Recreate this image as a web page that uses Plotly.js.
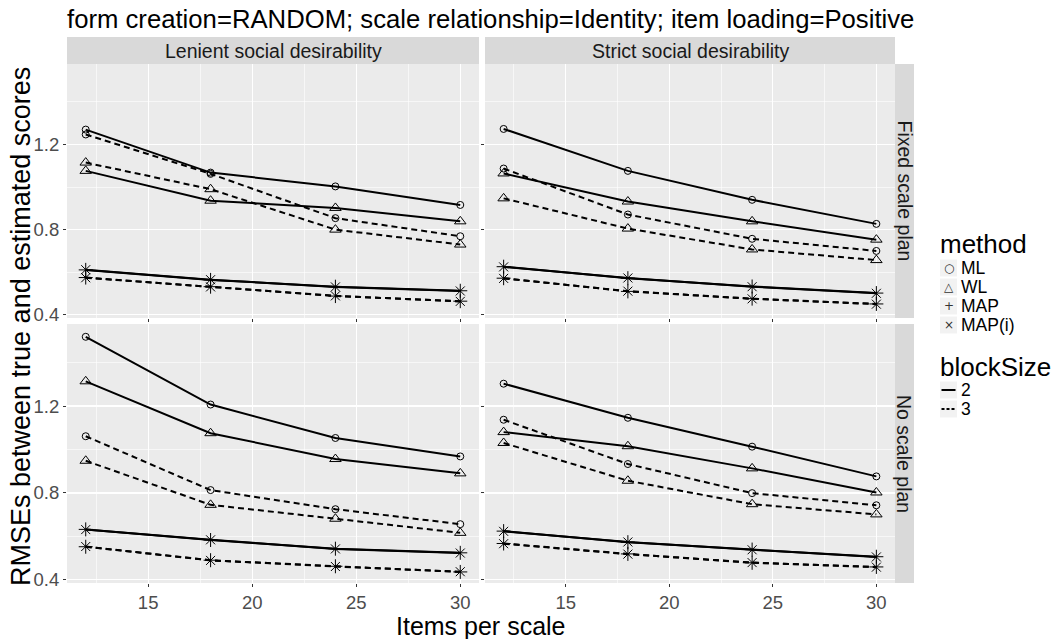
<!DOCTYPE html>
<html>
<head>
<meta charset="utf-8">
<script src="https://cdn.plot.ly/plotly-3.0.1.min.js"></script>
<style>html,body{margin:0;padding:0;background:#fff;}#chart{width:1057px;height:639px;}</style>
</head>
<body>
<div id="chart"></div>
<script>
// ---- data ----
const itemsPerScale = [12, 18, 24, 30];
const methods = ["ML", "WL", "MAP", "MAP(i)"];
const blockSizes = ["2", "3"];
const xTicks = [15, 20, 25, 30];
const yTicks = [0.4, 0.8, 1.2];
const colPanels = ["Lenient social desirability", "Strict social desirability"];
const rowPanels = ["Fixed scale plan", "No scale plan"];

// Lenient / Fixed scale plan
const LF_ML_2 = [1.270, 1.068, 1.003, 0.916];
const LF_ML_3 = [1.247, 1.062, 0.854, 0.769];
const LF_WL_2 = [1.076, 0.936, 0.902, 0.839];
const LF_WL_3 = [1.115, 0.990, 0.800, 0.730];
const LF_MAP_2 = [0.611, 0.564, 0.532, 0.513];
const LF_MAP_3 = [0.575, 0.532, 0.488, 0.464];
const LF_MAPi_2 = [0.612, 0.565, 0.531, 0.512];
const LF_MAPi_3 = [0.574, 0.531, 0.489, 0.463];
// Strict / Fixed scale plan
const SF_ML_2 = [1.273, 1.076, 0.940, 0.827];
const SF_ML_3 = [1.087, 0.871, 0.757, 0.700];
const SF_WL_2 = [1.064, 0.932, 0.839, 0.753];
const SF_WL_3 = [0.947, 0.805, 0.707, 0.657];
const SF_MAP_2 = [0.626, 0.572, 0.533, 0.502];
const SF_MAP_3 = [0.572, 0.510, 0.476, 0.451];
const SF_MAPi_2 = [0.625, 0.573, 0.532, 0.501];
const SF_MAPi_3 = [0.571, 0.511, 0.475, 0.450];
// Lenient / No scale plan
const LN_ML_2 = [1.519, 1.207, 1.053, 0.968];
const LN_ML_3 = [1.061, 0.813, 0.725, 0.656];
const LN_WL_2 = [1.314, 1.075, 0.956, 0.890];
const LN_WL_3 = [0.948, 0.745, 0.681, 0.616];
const LN_MAP_2 = [0.632, 0.583, 0.543, 0.524];
const LN_MAP_3 = [0.552, 0.490, 0.462, 0.436];
const LN_MAPi_2 = [0.631, 0.584, 0.542, 0.523];
const LN_MAPi_3 = [0.553, 0.489, 0.461, 0.437];
// Strict / No scale plan
const SN_ML_2 = [1.303, 1.146, 1.013, 0.876];
const SN_ML_3 = [1.137, 0.933, 0.799, 0.743];
const SN_WL_2 = [1.080, 1.015, 0.913, 0.802];
const SN_WL_3 = [1.030, 0.856, 0.748, 0.701];
const SN_MAP_2 = [0.624, 0.573, 0.539, 0.506];
const SN_MAP_3 = [0.567, 0.519, 0.478, 0.459];
const SN_MAPi_2 = [0.623, 0.574, 0.538, 0.505];
const SN_MAPi_3 = [0.566, 0.518, 0.479, 0.458];

// ---- styles ----
const FONT = "Liberation Sans, Arial, sans-serif";
const symbols = {"ML": "circle-open", "WL": "triangle-up-open", "MAP": "cross-thin-open", "MAP(i)": "x-thin-open"};
const symSize = {"ML": 7, "WL": 10, "MAP": 10, "MAP(i)": 9};
const dashes = {"2": "solid", "3": "6px,4px"};

const panels = [
  {axes: ["x", "y"],   data: {"ML": [LF_ML_2, LF_ML_3], "WL": [LF_WL_2, LF_WL_3], "MAP": [LF_MAP_2, LF_MAP_3], "MAP(i)": [LF_MAPi_2, LF_MAPi_3]}},
  {axes: ["x2", "y2"], data: {"ML": [SF_ML_2, SF_ML_3], "WL": [SF_WL_2, SF_WL_3], "MAP": [SF_MAP_2, SF_MAP_3], "MAP(i)": [SF_MAPi_2, SF_MAPi_3]}},
  {axes: ["x3", "y3"], data: {"ML": [LN_ML_2, LN_ML_3], "WL": [LN_WL_2, LN_WL_3], "MAP": [LN_MAP_2, LN_MAP_3], "MAP(i)": [LN_MAPi_2, LN_MAPi_3]}},
  {axes: ["x4", "y4"], data: {"ML": [SN_ML_2, SN_ML_3], "WL": [SN_WL_2, SN_WL_3], "MAP": [SN_MAP_2, SN_MAP_3], "MAP(i)": [SN_MAPi_2, SN_MAPi_3]}}
];

const traces = [];
panels.forEach(p => {
  methods.forEach(m => {
    blockSizes.forEach((b, bi) => {
      traces.push({
        type: "scatter", mode: "lines+markers",
        x: itemsPerScale, y: p.data[m][bi],
        xaxis: p.axes[0], yaxis: p.axes[1],
        name: m + " / " + b, showlegend: false,
        line: {color: "#000000", width: 2, dash: dashes[b]},
        marker: {symbol: symbols[m], size: symSize[m], color: "#000000", line: {color: "#000000", width: 1}},
        hoverinfo: "skip"
      });
    });
  });
});

// ---- geometry (pixels -> paper) ----
const W = 1057, H = 639;
const px = v => v / W, py = v => 1 - v / H;
const colX = [[67, 479], [485, 895]];
const rowY = [[64, 318], [324, 583]];
const xRange = [11.1, 30.9], yRange = [0.385, 1.578];
const TICKFONT = {family: FONT, size: 18.5, color: "#4D4D4D"};

function xa(col, showLabels) {
  return {
    domain: [px(colX[col][0]), px(colX[col][1])], range: xRange,
    tickvals: xTicks, ticktext: xTicks.map(String),
    showticklabels: showLabels, ticks: "outside", ticklen: 3, tickwidth: 1, tickcolor: "#333333",
    tickfont: TICKFONT,
    showgrid: true, gridcolor: "#FFFFFF", gridwidth: 1.2, zeroline: false, showline: false,
    minor: {tickvals: [12.5, 17.5, 22.5, 27.5], showgrid: true, gridcolor: "#FFFFFF", gridwidth: 0.6, ticks: ""},
    fixedrange: true
  };
}
function ya(row, showLabels) {
  return {
    domain: [py(rowY[row][1]), py(rowY[row][0])], range: yRange,
    tickvals: yTicks, ticktext: yTicks.map(v => v.toFixed(1)),
    showticklabels: showLabels, ticks: "outside", ticklen: 3, tickwidth: 1, tickcolor: "#333333",
    tickfont: TICKFONT,
    showgrid: true, gridcolor: "#FFFFFF", gridwidth: 1.2, zeroline: false, showline: false,
    minor: {tickvals: [0.6, 1.0, 1.4], showgrid: true, gridcolor: "#FFFFFF", gridwidth: 0.6, ticks: ""},
    fixedrange: true
  };
}

const shapes = [];
const annotations = [];
// top strips
colPanels.forEach((t, i) => {
  shapes.push({type: "rect", xref: "paper", yref: "paper", x0: px(colX[i][0]), x1: px(colX[i][1]), y0: py(64), y1: py(37),
    fillcolor: "#D9D9D9", line: {width: 0}, layer: "below"});
  annotations.push({xref: "paper", yref: "paper", x: px((colX[i][0] + colX[i][1]) / 2), y: py(51), text: t, showarrow: false,
    xanchor: "center", yanchor: "middle", font: {family: FONT, size: 19.5, color: "#1A1A1A"}});
});
// right strips
rowPanels.forEach((t, i) => {
  shapes.push({type: "rect", xref: "paper", yref: "paper", x0: px(895), x1: px(914), y0: py(rowY[i][1]), y1: py(rowY[i][0]),
    fillcolor: "#D9D9D9", line: {width: 0}, layer: "below"});
  annotations.push({xref: "paper", yref: "paper", x: px(904.5), y: py((rowY[i][0] + rowY[i][1]) / 2), text: t, showarrow: false,
    textangle: 90, xanchor: "center", yanchor: "middle", font: {family: FONT, size: 19.5, color: "#1A1A1A"}});
});
// title
annotations.push({xref: "paper", yref: "paper", x: px(65), y: py(19), text: "form creation=RANDOM; scale relationship=Identity; item loading=Positive",
  showarrow: false, xanchor: "left", yanchor: "middle", font: {family: FONT, size: 25.7, color: "#000000"}});
// axis titles
annotations.push({xref: "paper", yref: "paper", x: px(481), y: py(626), text: "Items per scale", showarrow: false,
  xanchor: "center", yanchor: "middle", font: {family: FONT, size: 25, color: "#000000"}});
annotations.push({xref: "paper", yref: "paper", x: px(21), y: py(327), text: "RMSEs between true and estimated scores", showarrow: false,
  textangle: -90, xanchor: "center", yanchor: "middle", font: {family: FONT, size: 27, color: "#000000"}});

// legend: method
const legSym = {"ML": "○", "WL": "△", "MAP": "+", "MAP(i)": "×"};
const LSTEP = 19;
annotations.push({xref: "paper", yref: "paper", x: px(938), y: py(244), text: "method", showarrow: false,
  xanchor: "left", yanchor: "middle", font: {family: FONT, size: 26, color: "#000000"}});
methods.forEach((m, i) => {
  const cy = 268 + i * LSTEP;
  shapes.push({type: "rect", xref: "paper", yref: "paper", x0: px(940), x1: px(957), y0: py(cy + 8.5), y1: py(cy - 8.5),
    fillcolor: "#F2F2F2", line: {width: 0}});
  annotations.push({xref: "paper", yref: "paper", x: px(948.5), y: py(cy), text: legSym[m], showarrow: false,
    xanchor: "center", yanchor: "middle", font: {family: "DejaVu Sans, sans-serif", size: 12, color: "#333333"}});
  annotations.push({xref: "paper", yref: "paper", x: px(959), y: py(cy), text: m, showarrow: false,
    xanchor: "left", yanchor: "middle", font: {family: FONT, size: 17.5, color: "#000000"}});
});
// legend: blockSize
annotations.push({xref: "paper", yref: "paper", x: px(938), y: py(367), text: "blockSize", showarrow: false,
  xanchor: "left", yanchor: "middle", font: {family: FONT, size: 26, color: "#000000"}});
blockSizes.forEach((b, i) => {
  const cy = 390 + i * LSTEP;
  shapes.push({type: "rect", xref: "paper", yref: "paper", x0: px(940), x1: px(957), y0: py(cy + 8.5), y1: py(cy - 8.5),
    fillcolor: "#F2F2F2", line: {width: 0}});
  shapes.push({type: "line", xref: "paper", yref: "paper", x0: px(941.5), x1: px(955.5), y0: py(cy), y1: py(cy),
    line: {color: "#000000", width: 2, dash: b === "2" ? "solid" : "3px,2px"}});
  annotations.push({xref: "paper", yref: "paper", x: px(959), y: py(cy), text: b, showarrow: false,
    xanchor: "left", yanchor: "middle", font: {family: FONT, size: 17.5, color: "#000000"}});
});

const layout = {
  width: W, height: H,
  margin: {l: 0, r: 0, t: 0, b: 0},
  paper_bgcolor: "#FFFFFF", plot_bgcolor: "#EBEBEB",
  font: {family: FONT},
  showlegend: false,
  xaxis: xa(0, false), yaxis: ya(0, true),
  xaxis2: xa(1, false), yaxis2: ya(0, false),
  xaxis3: xa(0, true), yaxis3: ya(1, true),
  xaxis4: xa(1, true), yaxis4: ya(1, false),
  shapes: shapes, annotations: annotations
};
layout.xaxis.anchor = "y"; layout.yaxis.anchor = "x";
layout.xaxis2.anchor = "y2"; layout.yaxis2.anchor = "x2";
layout.xaxis3.anchor = "y3"; layout.yaxis3.anchor = "x3";
layout.xaxis4.anchor = "y4"; layout.yaxis4.anchor = "x4";

Plotly.newPlot("chart", traces, layout, {displayModeBar: false, staticPlot: true});
</script>
</body>
</html>
